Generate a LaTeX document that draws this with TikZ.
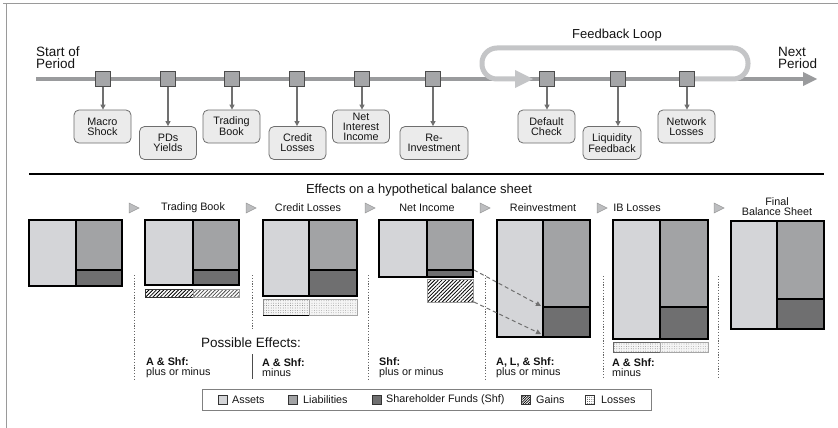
\documentclass[tikz,border=0pt]{standalone}
\usepackage{fontspec}
\setmainfont{Liberation Sans}
\usetikzlibrary{arrows.meta,patterns.meta}
\definecolor{assetc}{HTML}{D4D5D8}
\definecolor{liabc}{HTML}{A2A3A5}
\definecolor{shfc}{HTML}{6F6F70}
\definecolor{tlc}{HTML}{9A9B9D}
\definecolor{loopc}{HTML}{C4C5C7}
\definecolor{sqc}{HTML}{A5A6A8}
\definecolor{boxfill}{HTML}{EBEBEB}
\definecolor{boxline}{HTML}{6E6E6E}
\definecolor{arrc}{HTML}{707070}
\definecolor{txt}{HTML}{141414}
\definecolor{framec}{HTML}{9A9A9A}
\definecolor{markc}{HTML}{BDBEC0}
\newcommand\bsheet[6]{%
  \fill[assetc] (#1,#4) rectangle (#2,#6);
  \fill[liabc] (#2,#4) rectangle (#3,#5);
  \fill[shfc] (#2,#5) rectangle (#3,#6);
  \draw[bsline] (#1,#4) rectangle (#3,#6);
  \draw[bsline] (#2,#4) -- (#2,#6);
  \draw[bsline] (#2,#5) -- (#3,#5);}
\newcommand\stepmark[1]{\fill[markc, draw=framec, line width=0.5pt] (#1,203) -- (#1+10,208) -- (#1,213) -- cycle;}
\begin{document}
\begin{tikzpicture}[x=1pt,y=-1pt,
  txtstyle/.style={text=txt, inner sep=0pt},
  evbox/.style={draw=boxline, fill=boxfill, rounded corners=5pt, minimum width=57pt,
    minimum height=33pt, inner sep=1.5pt, align=center, line width=0.8pt,
    font=\fontsize{10.8}{10}\selectfont, text=txt},
  tsq/.style={draw=black!70, fill=sqc, minimum size=15pt, inner sep=0pt, line width=0.8pt},
  dnarr/.style={draw=arrc, line width=1.1pt, -{Triangle[length=5pt,width=5pt]}},
  bsline/.style={draw=black, line width=1.1pt},
  hdr/.style={txtstyle, font=\fontsize{10.8}{10}\selectfont, align=center},
  effl/.style={txtstyle, font=\fontsize{10.8}{9.5}\selectfont, align=left, anchor=west},
  dotv/.style={draw=black!60, line width=0.7pt, dash pattern=on 1.2pt off 1.6pt},
  dasharr/.style={draw=arrc, line width=1pt, dash pattern=on 4pt off 3pt, -{Triangle[length=5pt,width=5pt]}},
  legsq/.style={draw=black!80, line width=0.6pt, minimum size=9pt, inner sep=0pt},
  legtxt/.style={txtstyle, font=\fontsize{10.8}{10}\selectfont, anchor=west}
]
\useasboundingbox (0,0) rectangle (838,428);
\fill[white] (0,0) rectangle (838,428);
% frame
\draw[framec, line width=1pt] (3,4) -- (838,4);
\draw[framec, line width=1pt] (6,4) -- (6,428);

% timeline
\coordinate (tstart) at (36,79);
\coordinate (tend) at (803,79);
\draw[tlc, line width=4pt] (tstart) -- (tend);
\fill[tlc] (803,72) -- (817,79) -- (803,86) -- cycle;
% feedback loop
\draw[loopc, line width=5pt, rounded corners=15pt] (695,79) -- (748,79) -- (748,48) -- (482,48) -- (482,79) -- (517,79);
\fill[loopc] (515,70) -- (533,79) -- (515,88) -- cycle;
\node[txtstyle, font=\fontsize{13}{13}\selectfont] (fl) at (617,35) {Feedback Loop};

\node[txtstyle, font=\fontsize{13.5}{12}\selectfont, align=left, anchor=south west] (sp) at (36,69) {Start of\\Period};
\node[txtstyle, font=\fontsize{13.5}{12}\selectfont, align=left, anchor=south west] (np) at (778,69) {Next\\Period};

% squares
\node[tsq] (s1) at (103,79) {};
\node[tsq] (s2) at (168,79) {};
\node[tsq] (s3) at (232,79) {};
\node[tsq] (s4) at (297,79) {};
\node[tsq] (s5) at (362,79) {};
\node[tsq] (s6) at (433,79) {};
\node[tsq] (s7) at (547,79) {};
\node[tsq] (s8) at (618,79) {};
\node[tsq] (s9) at (687,79) {};
% boxes
\node[evbox] (b1) at (102.5,126.5) {Macro\\Shock};
\node[evbox] (b2) at (168,143) {PDs\\Yields};
\node[evbox] (b3) at (231.5,126.5) {Trading\\Book};
\node[evbox] (b4) at (297.5,143) {Credit\\Losses};
\node[evbox] (b5) at (361,126.5) {Net\\Interest\\Income};
\node[evbox, minimum width=68pt] (b6) at (434,143) {Re-\\Investment};
\node[evbox] (b7) at (546.5,126.5) {Default\\Check};
\node[evbox, minimum width=58pt] (b8) at (612,143) {Liquidity\\Feedback};
\node[evbox] (b9) at (686.5,126.5) {Network\\Losses};
\foreach \i in {1,...,9} {\draw[dnarr] (s\i.south) -- (s\i.south |- b\i.north);}

% separator
\draw[black, line width=1.5pt] (29,174) -- (824,174);
\node[txtstyle, font=\fontsize{13}{13}\selectfont] (eff) at (419,190) {Effects on a hypothetical balance sheet};

% step markers
\stepmark{129}
\stepmark{246}
\stepmark{365}
\stepmark{480}
\stepmark{597}
\stepmark{714}
\node[hdr] (h1) at (193,208) {Trading Book};
\node[hdr] (h2) at (308,208) {Credit Losses};
\node[hdr] (h3) at (427,208) {Net Income};
\node[hdr] (h4) at (543,208) {Reinvestment};
\node[hdr] (h5) at (637,208) {IB Losses};
\node[hdr] (h6) at (777,207) {Final\\Balance Sheet};

% balance sheets
\bsheet{29}{76}{122}{220}{270}{286}
\bsheet{145}{193}{239}{220}{270}{285}
\bsheet{263}{309}{357}{220}{270}{296}
\bsheet{379}{427}{473}{220}{270}{277}
\bsheet{497}{543}{590}{220}{307}{337}
\bsheet{613}{660}{708}{220}{307}{339}
\bsheet{731}{777}{824}{221}{299}{329}

% gains bar (Trading Book)
\fill[white] (145,289) rectangle (239,297);
\path[pattern={Lines[angle=45,distance=2.6pt,line width=0.8pt]}, pattern color=black] (145,289) rectangle (193,297);
\path[pattern={Lines[angle=45,distance=2.6pt,line width=0.8pt]}, pattern color=black!70] (193,289) rectangle (239,297);
\draw[black!80, line width=0.8pt] (145,289) rectangle (193,297);
\draw[black!40, line width=0.8pt] (193,289) rectangle (239,297);
% losses bar (Credit Losses)
\fill[black!4] (263,299) rectangle (357,315);
\path[pattern={Dots[radius=0.35pt,distance=2.4pt]}, pattern color=black!75] (263,299) rectangle (309,315);
\path[pattern={Dots[radius=0.35pt,distance=2.4pt]}, pattern color=black!55] (309,299) rectangle (357,315);
\draw[black!45, line width=0.8pt] (263,299) rectangle (309,315);
\draw[black!35, line width=0.8pt] (309,299) rectangle (357,315);
\draw[black, line width=1pt] (263,315) -- (309,315);
% gains box (Net Income)
\fill[white] (427,279) rectangle (473,302);
\path[pattern={Lines[angle=45,distance=2.6pt,line width=0.8pt]}, pattern color=black] (427,279) rectangle (473,302);
\draw[black!40, line width=0.8pt] (427,279) rectangle (473,302);
% losses bar (IB Losses)
\fill[black!4] (613,342) rectangle (708,352);
\path[pattern={Dots[radius=0.35pt,distance=2.4pt]}, pattern color=black!70] (613,342) rectangle (660,352);
\path[pattern={Dots[radius=0.35pt,distance=2.4pt]}, pattern color=black!55] (660,342) rectangle (708,352);
\draw[black!60, line width=0.8pt] (613,342) rectangle (660,352);
\draw[black!35, line width=0.8pt] (660,342) rectangle (708,352);

% dashed arrows
\coordinate (da1) at (474,270);
\coordinate (da2) at (541,306);
\coordinate (db1) at (474,302);
\coordinate (db2) at (541,334);
\draw[dasharr] (da1) -- (da2);
\draw[dasharr] (db1) -- (db2);

% dotted separators
\draw[dotv] (134,275) -- (134,379);
\draw[dotv] (252,275) -- (252,330);
\draw[black!70, line width=0.8pt] (252,354) -- (252,379);
\draw[dotv] (368,275) -- (368,379);
\draw[dotv] (485,275) -- (485,379);
\draw[dotv] (603,276) -- (603,379);
\draw[dotv] (718,276) -- (718,379);

% possible effects
\node[txtstyle, font=\fontsize{13.5}{13.5}\selectfont] (pe) at (251,343) {Possible Effects:};
\node[effl] (e1) at (146,367.5) {\textbf{A \& Shf:}\\plus or minus};
\node[effl] (e2) at (262,367.5) {\textbf{A \& Shf:}\\minus};
\node[effl] (e3) at (379,367.5) {\textbf{Shf:}\\plus or minus};
\node[effl] (e4) at (496,367.5) {\textbf{A, L, \& Shf:}\\plus or minus};
\node[effl] (e5) at (612,367.5) {\textbf{A \& Shf:}\\minus};

% legend
\node[draw=black!50, line width=0.8pt, minimum width=449pt, minimum height=21pt, inner sep=0pt] (leg) at (426.5,399.5) {};
\node[legsq, fill=assetc] (l1) at (222.5,399.5) {};
\node[legtxt] (t1) at (232,399.5) {Assets};
\node[legsq, fill=liabc] (l2) at (292.5,399.5) {};
\node[legtxt] (t2) at (303,399.5) {Liabilities};
\node[legsq, fill=shfc] (l3) at (376.5,399.5) {};
\node[legtxt] (t3) at (386,399.5) {Shareholder Funds (Shf)};
\node[legsq, fill=white, pattern={Lines[angle=45,distance=1.8pt,line width=0.7pt]}, pattern color=black] (l4) at (526,399.5) {};
\node[legtxt] (t4) at (536,399.5) {Gains};
\node[legsq, fill=white, pattern={Dots[radius=0.4pt,distance=2.2pt]}, pattern color=black] (l5) at (590,399.5) {};
\node[legtxt] (t5) at (601,399.5) {Losses};
\end{tikzpicture}
\end{document}
